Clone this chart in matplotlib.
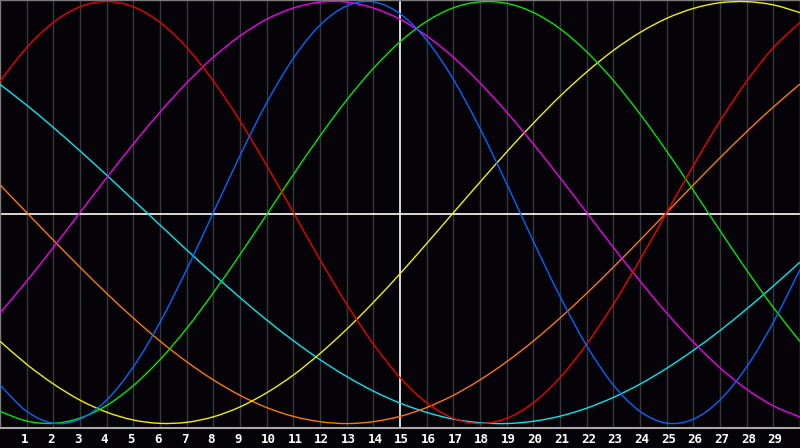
"""
plot.py

Seven-cycle day chart (1..29) on a black canvas, saved to out.png.
"""

import matplotlib
matplotlib.use('Agg')
import matplotlib.pyplot as plt
import matplotlib.transforms as mtransforms
from matplotlib.path import Path
from matplotlib.patches import PathPatch

# day positions for the sampled values (0 = left edge, 30 = right edge)
days = list(range(0, 31))
day_labels = [str(d) for d in range(1, 30)]
marker_day = 15

# values, one per day, in [-1, 1]
red = [0.623, 0.782, 0.901, 0.975, 1.000, 0.975, 0.901, 0.782, 0.623, 0.434, 0.223, 0.000, -0.223, -0.434,
       -0.623, -0.782, -0.901, -0.975, -1.000, -0.975, -0.901, -0.782, -0.623, -0.434, -0.223, 0.000, 0.223,
       0.434, 0.623, 0.782, 0.901]
blue = [-0.817, -0.942, -0.998, -0.979, -0.888, -0.731, -0.520, -0.270, 0.000, 0.270, 0.520, 0.731, 0.888, 0.979,
        0.998, 0.942, 0.817, 0.631, 0.398, 0.136, -0.136, -0.398, -0.631, -0.817, -0.942, -0.998, -0.979,
        -0.888, -0.731, -0.520, -0.270]
green = [-0.942, -0.988, -0.999, -0.974, -0.914, -0.820, -0.697, -0.549, -0.380, -0.199, -0.010, 0.180, 0.363,
         0.533, 0.683, 0.809, 0.906, 0.970, 0.998, 0.991, 0.948, 0.871, 0.762, 0.626, 0.467, 0.291, 0.105,
         -0.086, -0.273, -0.450, -0.611]
magenta = [-0.476, -0.325, -0.165, 0.000, 0.165, 0.325, 0.476, 0.614, 0.736, 0.837, 0.916, 0.969, 0.997, 0.997,
           0.969, 0.916, 0.837, 0.736, 0.614, 0.476, 0.325, 0.165, 0.000, -0.165, -0.325, -0.476, -0.614,
           -0.736, -0.837, -0.916, -0.969]
yellow = [-0.610, -0.719, -0.812, -0.889, -0.946, -0.983, -0.999, -0.994, -0.968, -0.921, -0.854, -0.770, -0.668,
          -0.553, -0.426, -0.290, -0.147, -0.001, 0.144, 0.287, 0.423, 0.551, 0.666, 0.768, 0.853, 0.920, 0.967,
          0.994, 0.999, 0.984, 0.947]
orange = [0.131, 0.000, -0.131, -0.259, -0.383, -0.500, -0.609, -0.707, -0.793, -0.866, -0.924, -0.966, -0.991,
          -1.000, -0.991, -0.966, -0.924, -0.866, -0.793, -0.707, -0.609, -0.500, -0.383, -0.259, -0.131, 0.000,
          0.131, 0.259, 0.383, 0.500, 0.609]
cyan = [0.607, 0.509, 0.403, 0.292, 0.177, 0.059, -0.059, -0.177, -0.292, -0.403, -0.509, -0.607, -0.697, -0.777,
        -0.846, -0.903, -0.947, -0.979, -0.996, -1.000, -0.989, -0.965, -0.927, -0.876, -0.813, -0.738, -0.653,
        -0.559, -0.457, -0.348, -0.235]

series = [
    (cyan, '#00e8f0'),
    (orange, '#ff7800'),
    (yellow, '#f0f000'),
    (magenta, '#f000f0'),
    (green, '#00e800'),
    (red, '#f00000'),
    (blue, '#0068ff'),
]

BG = '#050308'


def smooth_path(xs, ys):
    # Catmull-Rom through the read points, drawn as cubic Bezier segments
    verts = [(xs[0], ys[0])]
    codes = [Path.MOVETO]
    n = len(xs)
    for i in range(n - 1):
        x0, y0 = (xs[i - 1], ys[i - 1]) if i > 0 else (xs[i], ys[i])
        x1, y1 = xs[i], ys[i]
        x2, y2 = xs[i + 1], ys[i + 1]
        x3, y3 = (xs[i + 2], ys[i + 2]) if i + 2 < n else (x2, y2)
        c1 = (x1 + (x2 - x0) / 6.0, y1 + (y2 - y0) / 6.0)
        c2 = (x2 - (x3 - x1) / 6.0, y2 - (y3 - y1) / 6.0)
        verts += [c1, c2, (x2, y2)]
        codes += [Path.CURVE4] * 3
    return Path(verts, codes)


fig = plt.figure(figsize=(8, 4.48), dpi=100, facecolor=BG)
ax = fig.add_axes([0, 20 / 448, 1, 428 / 448])
ax.set_facecolor(BG)

ax.set_xlim(0, 30)
ax.set_ylim(-1.021, 1.007)

# day grid
for d in range(1, 30):
    if d == marker_day:
        continue
    ax.axvline(d, color='#38383c', lw=1.0, zorder=1)

for vals, col in series:
    ax.add_patch(PathPatch(smooth_path(days, vals), facecolor='none', edgecolor=col,
                           lw=1.0, zorder=3))

# centre line and today marker
ax.axhline(-0.007, color='white', lw=1.2, zorder=2)
ax.axvline(marker_day, color='white', lw=1.2, zorder=2)

for side in ['top', 'left', 'right']:
    ax.spines[side].set_color('#7a7a7a')
    ax.spines[side].set_linewidth(1.0)
ax.spines['bottom'].set_color('#a8a8a8')
ax.spines['bottom'].set_linewidth(1.5)

ax.set_xticks([])
ax.set_yticks([])

# day labels just left of each grid line, below the plot
trans = mtransforms.blended_transform_factory(ax.transData, ax.transAxes)
for i, lab in enumerate(day_labels):
    d = i + 1
    ax.text(d - 0.22, -11 / 428, lab, transform=trans, ha='left', va='center',
            color='white', fontsize=9, fontweight='bold', family='DejaVu Sans Mono',
            clip_on=False)

fig.savefig('out.png', dpi=100, facecolor=BG)
